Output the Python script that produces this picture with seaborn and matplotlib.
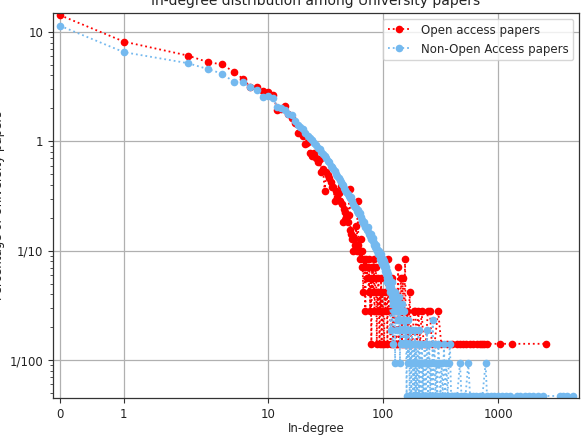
import numpy as np
import matplotlib
matplotlib.use("Agg")
import matplotlib.pyplot as plt
import seaborn as sns
from matplotlib.ticker import NullLocator, NullFormatter

# paper totals used to turn counts into percentages
open_total = 7100
nonopen_total = 21300

# open access papers: in-degree 0..90 (every value present)
open_head_degree = list(range(0, 91))
open_head_counts = [
    1010, 579, 432, 376, 358, 307, 266, 223, 221, 204,
    201, 190, 138, 141, 148, 125, 116, 104, 85, 84,
    80, 67, 70, 56, 52, 55, 50, 46, 49, 37,
    40, 25, 37, 35, 33, 30, 27, 27, 20, 25,
    22, 24, 20, 28, 19, 13, 17, 16, 14, 13,
    15, 26, 11, 10, 9, 7, 9, 8, 12, 7,
    20, 8, 7, 6, 9, 5, 7, 3, 6, 5,
    2, 6, 4, 5, 5, 3, 6, 2, 4, 1,
    5, 3, 4, 6, 2, 3, 5, 4, 1, 3,
    2,
]
# open access papers: sparse tail
open_tail_degree = [
    91, 92, 93, 94, 95, 96, 97, 98, 100, 102, 103, 105, 107, 109, 110,
    112, 114, 116, 118, 120, 122, 125, 127, 129, 131, 133, 135, 137, 140,
    143, 146, 148, 150, 152, 155, 158, 162, 166, 170, 175, 180, 185, 190,
    196, 202, 210, 216, 225, 235, 245, 255, 265, 280, 301, 320, 356, 400,
    436, 470, 498, 530, 569, 610, 650, 690, 719, 760, 796, 1038, 1328, 2590,
]
open_tail_counts = [
    4, 2, 1, 3, 2, 4, 1, 3, 2, 1, 3, 2, 4, 1, 6,
    2, 3, 1, 2, 4, 1, 2, 3, 1, 1, 2, 5, 1, 2,
    4, 1, 4, 2, 1, 6, 1, 2, 1, 3, 1, 1, 2, 2,
    1, 2, 1, 2, 1, 1, 2, 2, 1, 1, 2, 1, 1, 1,
    1, 1, 1, 1, 1, 1, 1, 1, 1, 1, 1, 1, 1, 1,
]

# non-open access papers: in-degree 0..100
nonopen_head_degree = list(range(0, 101))
nonopen_head_counts = [
    2426, 1391, 1104, 974, 883, 747, 736, 664, 632, 538,
    557, 532, 440, 430, 410, 375, 372, 330, 298, 290,
    276, 255, 240, 228, 221, 205, 196, 187, 180, 170,
    164, 155, 150, 141, 138, 128, 124, 118, 115, 108,
    102, 99, 95, 90, 87, 85, 80, 76, 74, 70,
    68, 66, 65, 66, 60, 57, 55, 53, 52, 49,
    50, 47, 46, 47, 43, 41, 40, 38, 39, 36,
    35, 35, 33, 34, 35, 31, 30, 29, 30, 27,
    27, 26, 28, 24, 25, 23, 22, 24, 21, 22,
    21, 20, 21, 19, 18, 20, 17, 18, 16, 17,
    18,
]
# non-open access papers: sparse tail
nonopen_tail_degree = [
    101, 102, 103, 104, 105, 106, 107, 108, 109, 110, 111, 112, 113, 114,
    115, 116, 117, 118, 119, 120, 121, 122, 123, 124, 125, 126, 127, 128,
    129, 130, 131, 132, 133, 134, 135, 136, 137, 138, 139, 140, 141, 142,
    143, 144, 145, 146, 147, 148, 149, 150, 152, 153, 154, 155, 156, 157,
    158, 160, 161, 162, 163, 165, 166, 168, 170, 171, 173, 175, 176, 178,
    180, 182, 183, 185, 187, 188, 190, 192, 194, 196, 198, 200, 203, 205,
    207, 210, 212, 215, 218, 220, 223, 226, 229, 232, 235, 238, 241, 245,
    248, 252, 256, 260, 265, 270, 272, 276, 280, 285, 290, 296, 302, 308,
    315, 322, 330, 338, 346, 355, 364, 372, 381, 390, 400, 412, 425, 440,
    466, 480, 500, 520, 550, 570, 600, 640, 690, 730, 778, 800, 860, 920,
    1000, 1080, 1160, 1268, 1450, 1550, 1700, 1850, 2000, 2200, 2463, 3450,
    3700, 4000, 4480,
]
nonopen_tail_counts = [
    15, 17, 14, 16, 13, 15, 12, 14, 11, 13, 12, 10, 12, 9,
    11, 4, 10, 9, 11, 8, 3, 9, 7, 8, 6, 9, 2, 7,
    8, 6, 7, 4, 6, 7, 5, 6, 8, 5, 4, 2, 6, 5,
    3, 6, 4, 5, 7, 3, 4, 5, 4, 6, 3, 5, 4, 3,
    5, 1, 4, 3, 5, 2, 4, 3, 1, 4, 2, 3, 1, 4,
    2, 2, 1, 3, 1, 2, 4, 1, 3, 2, 1, 2, 4, 1,
    3, 2, 1, 2, 3, 1, 2, 1, 3, 2, 1, 2, 4, 1,
    2, 3, 1, 2, 1, 5, 1, 2, 3, 1, 2, 1, 3, 2,
    1, 2, 1, 3, 1, 2, 1, 2, 3, 1, 1, 1, 1, 1,
    2, 1, 1, 1, 2, 1, 1, 1, 1, 1, 2, 1, 1, 1,
    1, 1, 1, 1, 1, 1, 1, 1, 1, 1, 1, 1,
    1, 1, 1,
]

x_ticks = [0, 1, 10, 100, 1000]
x_labels = ['0', '1', '10', '100', '1000']
y_ticks = [10, 1, 0.1, 0.01]
y_labels = ['10', '1', '1/10', '1/100']

open_degree = np.array(open_head_degree + open_tail_degree)
open_pct = np.array(open_head_counts + open_tail_counts) / open_total * 100
nonopen_degree = np.array(nonopen_head_degree + nonopen_tail_degree)
nonopen_pct = np.array(nonopen_head_counts + nonopen_tail_counts) / nonopen_total * 100

sns.set_theme(style="ticks")
plt.rcParams['font.family'] = ['DejaVu Sans']

fig, ax = plt.subplots(figsize=(5.86, 4.37), dpi=100)
fig.subplots_adjust(left=53 / 586, right=579 / 586, top=1 - 13 / 437, bottom=1 - 398 / 437)

sns.lineplot(x=open_degree, y=open_pct, ax=ax, color='#ff0000', marker='o',
             linestyle=':', lw=1.3, ms=5.5, mec='#ff0000', mew=0,
             label='Open access papers')
sns.lineplot(x=nonopen_degree, y=nonopen_pct, ax=ax, color='#74b9ef', marker='o',
             linestyle=':', lw=1.3, ms=5.5, mec='#74b9ef', mew=0,
             label='Non-Open Access papers')

ax.set_xscale('symlog', linthresh=2, linscale=1)
ax.set_yscale('log')
ax.set_xlim(-0.11, 5050)
ax.set_ylim(0.0045, 14.9)

ax.set_xticks(x_ticks)
ax.set_xticklabels(x_labels)
ax.xaxis.set_minor_locator(NullLocator())
ax.set_yticks(y_ticks)
ax.set_yticklabels(y_labels)
ax.yaxis.set_minor_formatter(NullFormatter())

ax.grid(True, which='major', color='#b0b0b0', lw=0.9)
ax.tick_params(axis='both', which='major', labelsize=8.5, direction='out',
               length=3.5, width=0.8, color='#333333', labelcolor='#222222')
ax.tick_params(axis='y', which='minor', direction='out', length=2, width=0.6,
               color='#333333')
for s in ax.spines.values():
    s.set_color('#333333')
    s.set_linewidth(0.9)

ax.set_title('In-degree distribution among University papers', fontsize=10,
             color='#222222', pad=6)
ax.set_xlabel('In-degree', fontsize=8.5, color='#222222', labelpad=1)
ax.set_ylabel('Percentage of University papers', fontsize=8.5, color='#222222')
ax.yaxis.set_label_coords(-0.092, 0.5)

ax.legend(loc='upper right', fontsize=8.5, framealpha=0.8, edgecolor='#cccccc',
          fancybox=True)

fig.savefig('out.png', dpi=100)
